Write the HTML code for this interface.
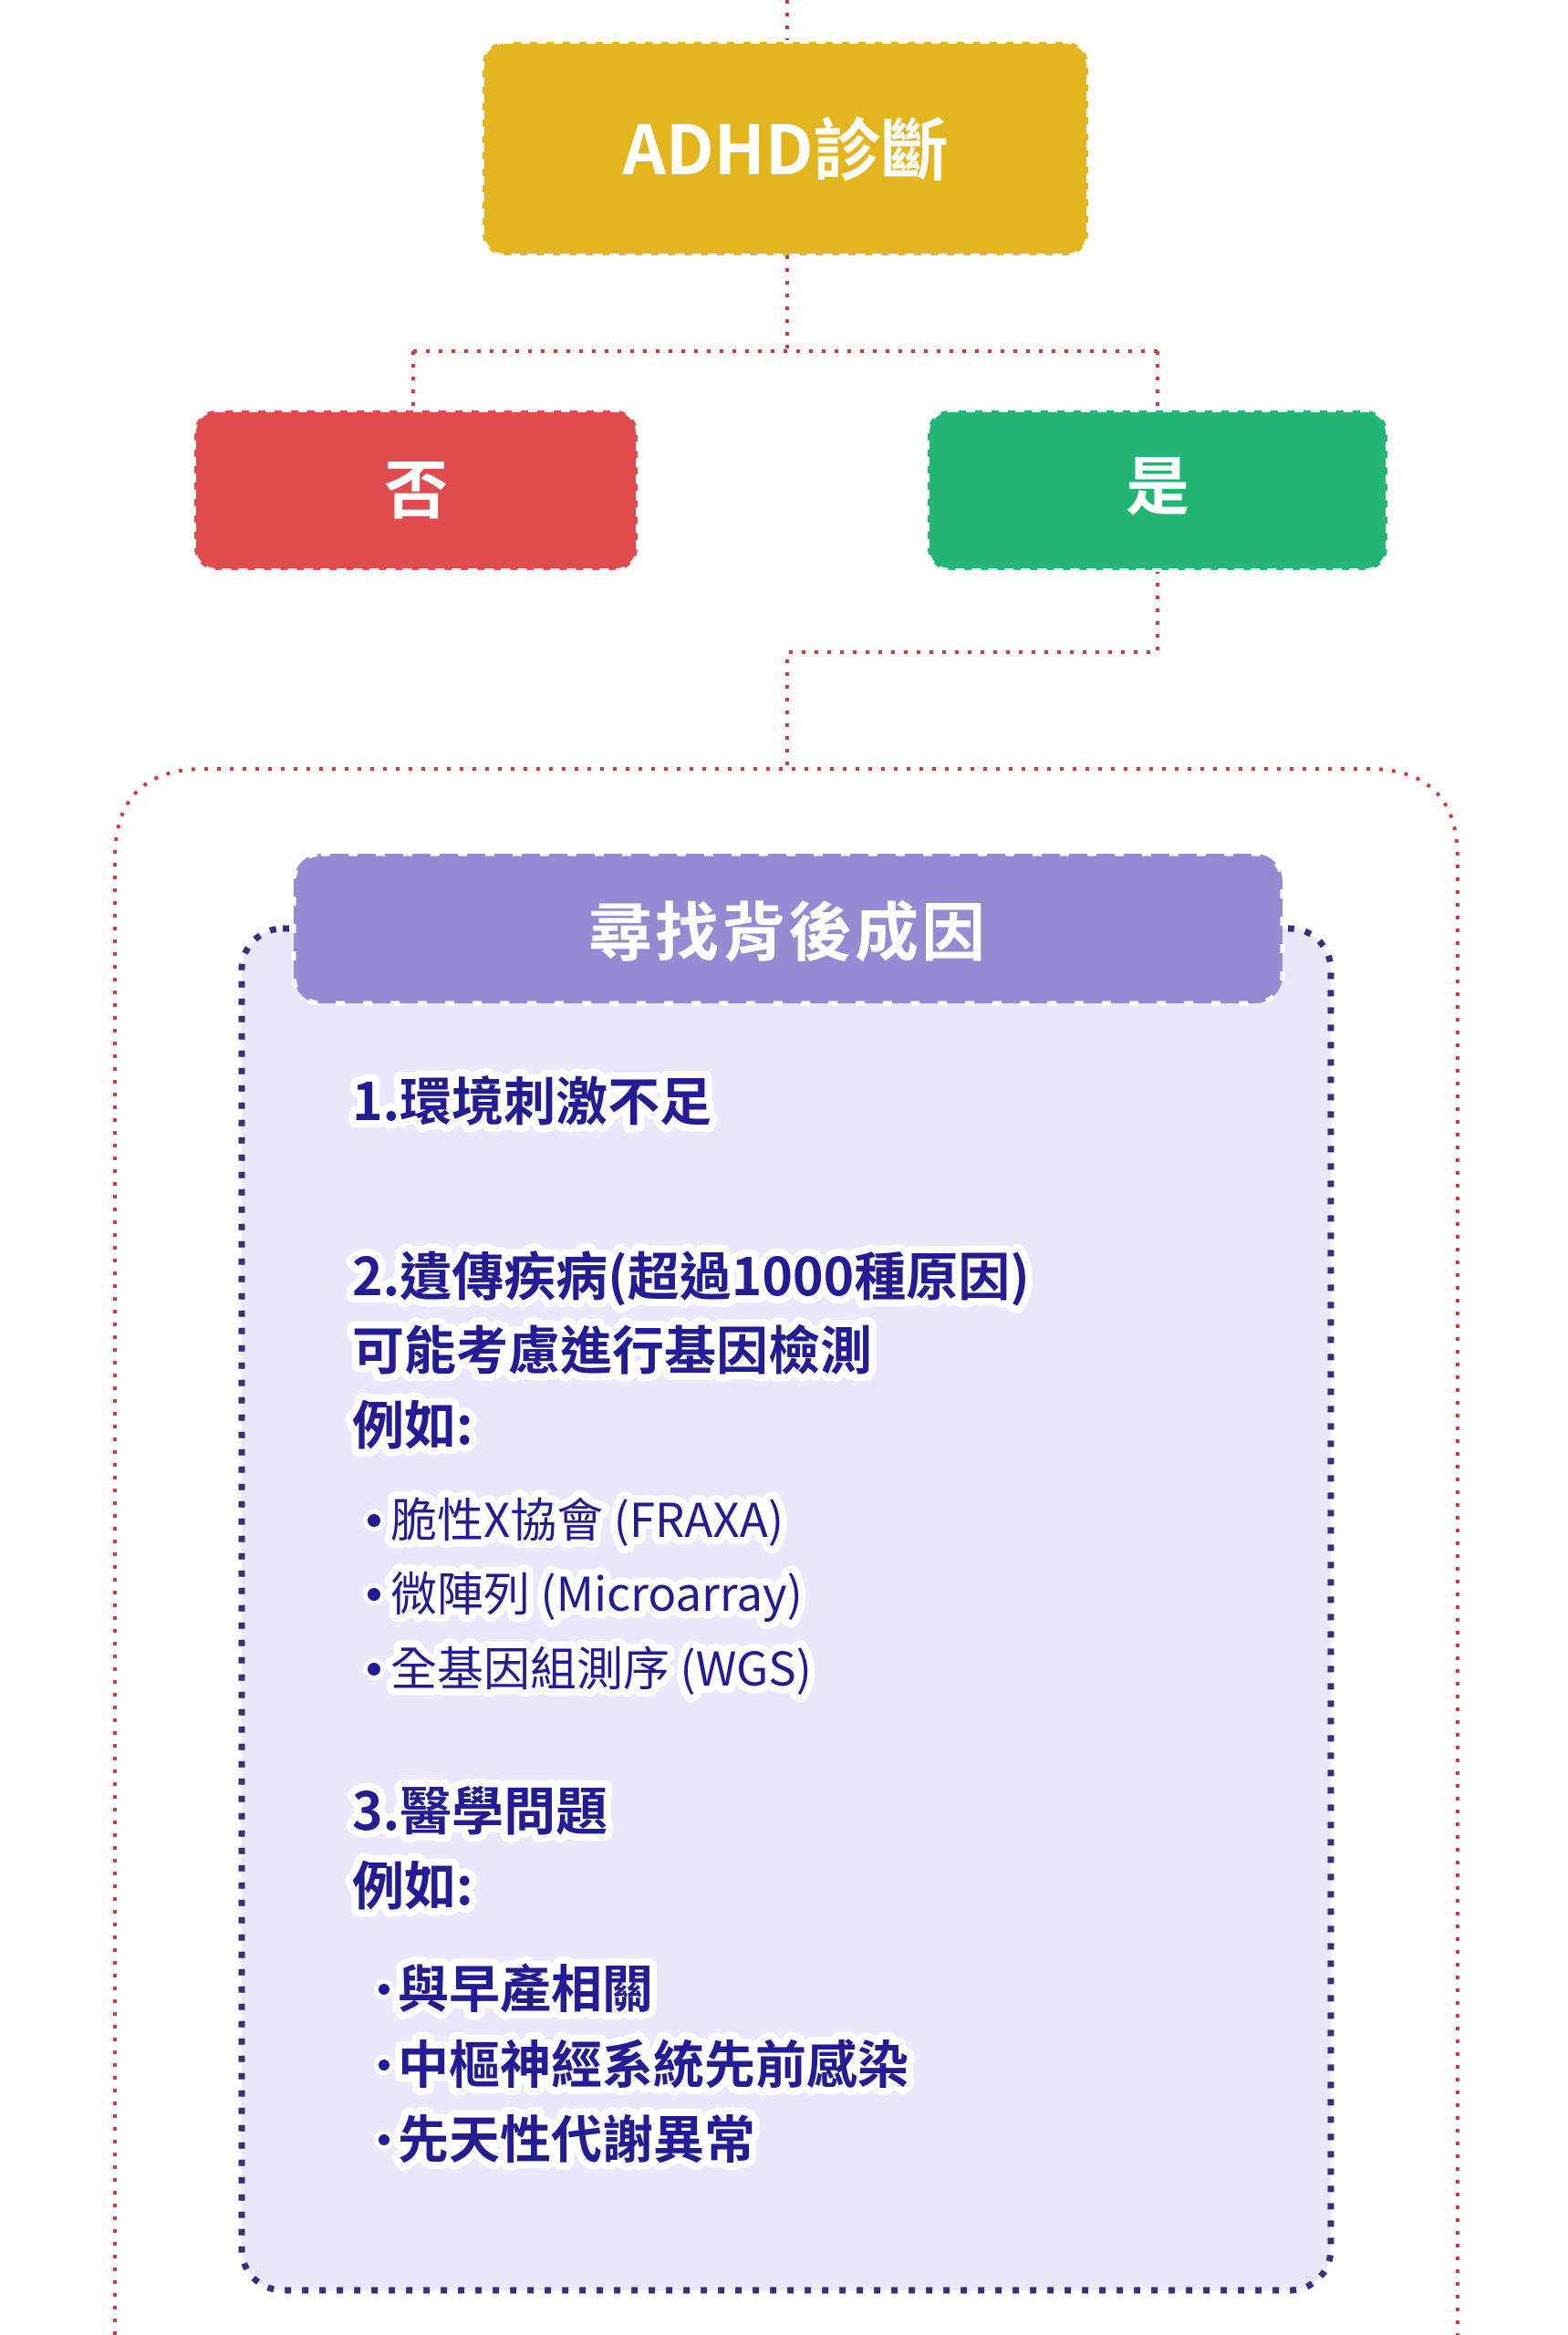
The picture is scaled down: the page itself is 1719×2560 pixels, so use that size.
<!DOCTYPE html>
<html><head><meta charset="utf-8"><style>
html,body{margin:0;padding:0;background:#fff;}
svg{display:block;}
text{font-family:"Noto Sans CJK TC","Liberation Sans",sans-serif;}
.o{paint-order:stroke fill;stroke:#fff;stroke-width:16px;stroke-linejoin:round;}
.h{font-size:57px;font-weight:bold;fill:#231C94;}
.b{font-size:51px;fill:#231C94;}
.bb{font-size:56px;font-weight:bold;fill:#231C94;}
</style></head><body>
<svg width="1719" height="2560" viewBox="0 0 1719 2560" xmlns="http://www.w3.org/2000/svg">
<g fill="none" stroke="#D7363F" stroke-width="4" stroke-dasharray="4 10">
<path d="M863 0 V46"/>
<path d="M863 280 V385 M453 385 H1269 M453 385 V450 M1269 385 V450"/>
<path d="M1269 625 V715 H863 V843"/>
<path d="M126 2560 V941 Q126 843 224 843 H1500 Q1598 843 1598 941 V2560"/>
</g>
<rect x="529" y="46" width="664" height="234" rx="24" fill="#E3B620" stroke="#fff" stroke-width="4" stroke-dasharray="10 8"/>
<text x="861" y="191" text-anchor="middle" font-size="74" font-weight="bold" fill="#fff">ADHD診斷</text>
<rect x="213" y="450" width="486" height="175" rx="24" fill="#E04B4D" stroke="#fff" stroke-width="4" stroke-dasharray="10 8"/>
<text x="456" y="562" text-anchor="middle" font-size="70" font-weight="bold" fill="#fff">否</text>
<rect x="1017" y="450" width="504" height="175" rx="24" fill="#22B573" stroke="#fff" stroke-width="4" stroke-dasharray="10 8"/>
<text x="1269" y="558" text-anchor="middle" font-size="70" font-weight="bold" fill="#fff">是</text>
<rect x="265" y="1018" width="1194" height="1493" rx="45" fill="#EBE8FB" stroke="#3A2E7A" stroke-width="7" stroke-dasharray="7 12"/>
<rect x="322" y="936" width="1084" height="164" rx="30" fill="#968AD2" stroke="#fff" stroke-width="5" stroke-dasharray="10 20"/>
<text x="864" y="1047" text-anchor="middle" font-size="70" font-weight="bold" fill="#fff" letter-spacing="3">尋找背後成因</text>
<text class="h o" x="386" y="1228">1.環境刺激不足</text>
<text class="h o" x="386" y="1420">2.遺傳疾病(超過1000種原因)</text>
<text class="h o" x="386" y="1501">可能考慮進行基因檢測</text>
<text class="h o" x="386" y="1583">例如:</text>
<circle cx="410" cy="1667" r="7" fill="#231C94" stroke="#fff" stroke-width="10" paint-order="stroke"/>
<circle cx="410" cy="1748" r="7" fill="#231C94" stroke="#fff" stroke-width="10" paint-order="stroke"/>
<circle cx="410" cy="1830" r="7" fill="#231C94" stroke="#fff" stroke-width="10" paint-order="stroke"/>
<text class="b o" x="428" y="1685">脆性X協會 (FRAXA)</text>
<text class="b o" x="428" y="1766">微陣列 (Microarray)</text>
<text class="b o" x="428" y="1848">全基因組測序 (WGS)</text>
<text class="h o" x="386" y="2006">3.醫學問題</text>
<text class="h o" x="386" y="2088">例如:</text>
<circle cx="421" cy="2181" r="6" fill="#231C94" stroke="#fff" stroke-width="10" paint-order="stroke"/>
<circle cx="421" cy="2264" r="6" fill="#231C94" stroke="#fff" stroke-width="10" paint-order="stroke"/>
<circle cx="421" cy="2346" r="6" fill="#231C94" stroke="#fff" stroke-width="10" paint-order="stroke"/>
<text class="bb o" x="436" y="2201">與早產相關</text>
<text class="bb o" x="436" y="2284">中樞神經系統先前感染</text>
<text class="bb o" x="436" y="2366">先天性代謝異常</text>
</svg>
</body></html>
